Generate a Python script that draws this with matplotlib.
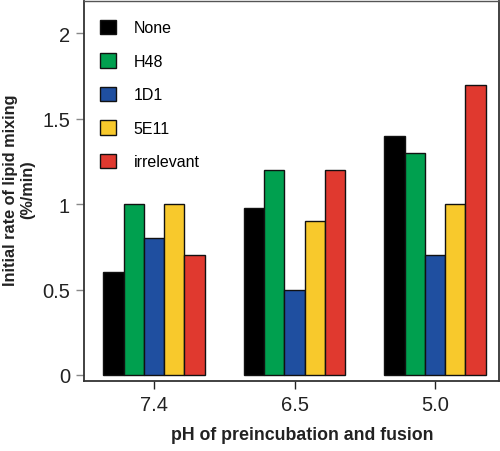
import numpy as np
import matplotlib
matplotlib.use('Agg')
import matplotlib.pyplot as plt

plt.rcParams['font.family'] = ['Liberation Sans', 'DejaVu Sans']

# data
ph_labels = ['7.4', '6.5', '5.0']
series = ['None', 'H48', '1D1', '5E11', 'irrelevant']
none_vals = [0.6, 0.98, 1.4]
h48_vals = [1.0, 1.2, 1.3]
d1_vals = [0.8, 0.5, 0.7]
e11_vals = [1.0, 0.9, 1.0]
irr_vals = [0.7, 1.2, 1.7]
colors = ['#000000', '#00a04f', '#1f4fa0', '#f8c92c', '#e0392f']

fig = plt.figure(figsize=(5, 4.52), dpi=100)
ax = fig.add_axes([0.168, 0.155, 0.830, 0.841])

x = np.arange(len(ph_labels))
w = 0.144
allvals = [none_vals, h48_vals, d1_vals, e11_vals, irr_vals]
for i, (name, vals) in enumerate(zip(series, allvals)):
    ax.bar(x + (i - 2) * w, vals, w, color=colors[i], edgecolor='#111111',
           linewidth=1.0, label=name)

ax.set_xlim(-0.498, 2.455)
ax.set_ylim(-0.035, 2.19)
ax.set_xticks(x)
ax.set_xticklabels(ph_labels)
ax.set_yticks([0, 0.5, 1, 1.5, 2])
ax.set_yticklabels(['0', '0.5', '1', '1.5', '2'])
ax.tick_params(axis='both', labelsize=14.5, colors='#222222', length=6, width=1,
               direction='out', pad=4)
ax.tick_params(axis='y', color='#888888')
for s in ax.spines.values():
    s.set_color('#333333')
    s.set_linewidth(1.3)
ax.spines['top'].set_linewidth(1.0)
ax.spines['top'].set_color('#555555')

ax.set_xlabel('pH of preincubation and fusion', fontsize=12.8, fontweight='bold',
              color='#222222')
ax.xaxis.set_label_coords(0.525, -0.118)
ax.set_ylabel('Initial rate of lipid mixing\n(%/min)', fontsize=11.7,
              fontweight='bold', color='#222222', linespacing=1.15)
ax.yaxis.set_label_coords(-0.118, 0.505)

ax.legend(loc='upper left', bbox_to_anchor=(16 / 415, 1 - 19 / 380), frameon=False,
          fontsize=11.5, handlelength=1.0, handleheight=1.0, labelspacing=1.12,
          handletextpad=1.1, borderpad=0, borderaxespad=0)

fig.savefig('out.png', dpi=100)
